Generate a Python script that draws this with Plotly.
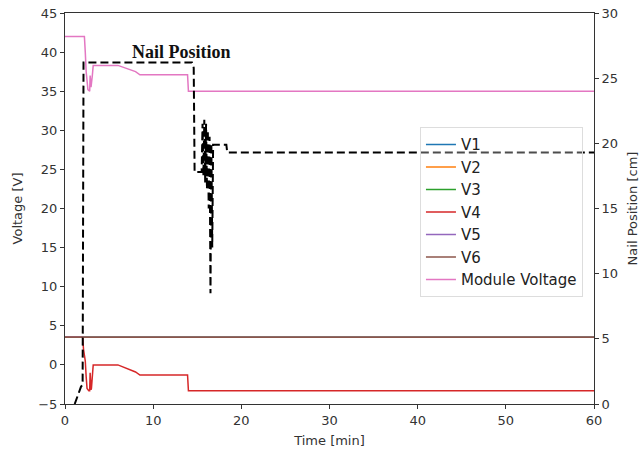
import plotly.graph_objects as go

# ---- data ----
t_const = [0, 60]
v_const = [3.55, 3.55]

v4_t = [0, 2.0, 2.1, 2.2, 2.3, 2.4, 2.5, 2.7, 2.8, 2.85, 2.95, 3.0, 3.1, 3.2, 6.0, 7.0, 8.0, 8.5, 13.9, 14.0, 60]
v4_v = [3.55, 3.55, 2.0, 1.0, 0.5, -1.5, -3.0, -3.3, -3.3, -1.0, -3.2, -3.0, -1.5, 0.0, 0.0, -0.4, -0.9, -1.3, -1.3, -3.3, -3.3]

mod_t = [0, 2.2, 2.3, 2.4, 2.6, 2.8, 2.85, 2.95, 3.0, 3.1, 3.2, 6.0, 7.0, 8.0, 8.5, 13.9, 14.0, 60]
mod_v = [42.0, 42.0, 40.0, 37.5, 35.2, 35.0, 37.0, 35.5, 36.0, 37.0, 38.3, 38.3, 37.9, 37.5, 37.1, 37.1, 35.0, 35.0]

nail_t = [1.1, 1.8, 2.0, 2.07, 2.1, 14.4, 14.6, 14.7, 15.5, 15.6, 15.7, 15.8, 15.9, 16.0, 16.1, 16.2,
          16.3, 16.4, 16.5, 16.6, 16.7, 16.8, 18.3, 18.4, 60]
nail_p = [0.0, 1.3, 1.5, 26.2, 26.2, 26.2, 25.8, 17.8, 17.8, 21.5, 17.5, 21.8, 17.0, 21.5, 16.5, 21.0,
          15.0, 20.5, 8.5, 20.0, 12.0, 19.9, 19.9, 19.3, 19.3]

series_names = ["V1", "V2", "V3", "V4", "V5", "V6", "Module Voltage"]
colors = ["#1f77b4", "#ff7f0e", "#2ca02c", "#d62728", "#9467bd", "#8c564b", "#e377c2"]

fig = go.Figure()
for i, name in enumerate(series_names):
    if name == "V4":
        x, y = v4_t, v4_v
    elif name == "Module Voltage":
        x, y = mod_t, mod_v
    else:
        x, y = t_const, v_const
    fig.add_trace(go.Scatter(x=x, y=y, mode="lines", name=name,
                             line=dict(color=colors[i], width=1.5)))

fig.add_trace(go.Scatter(x=nail_t, y=nail_p, mode="lines", name="Nail Position",
                         yaxis="y2", showlegend=False,
                         line=dict(color="black", width=2, dash="8px,4px")))

fig.add_annotation(x=13.2, y=27.0, xref="x", yref="y2", text="<b>Nail Position</b>",
                   showarrow=False, yanchor="middle", xanchor="center",
                   font=dict(family="Liberation Serif", size=18, color="#111"))

title_font = dict(family="DejaVu Sans", size=13, color="#333")
axis_common = dict(showgrid=False, zeroline=False, showline=True, linecolor="#333",
                   linewidth=1, ticks="outside", ticklen=4, tickcolor="#333", automargin=False,
                   tickfont=dict(family="DejaVu Sans", size=13, color="#333"))

fig.update_layout(
    width=641, height=453,
    margin=dict(l=65, r=47, t=13, b=49),
    paper_bgcolor="white", plot_bgcolor="white",
    xaxis=dict(range=[0, 60], dtick=10, mirror=True,
               title=dict(text="Time [min]", font=title_font, standoff=9),
               **axis_common),
    yaxis=dict(range=[-5, 45], dtick=5,
               title=dict(text="Voltage [V]", font=title_font, standoff=12),
               **axis_common),
    yaxis2=dict(range=[0, 30], dtick=5, overlaying="y", side="right",
                title=dict(text="Nail Position [cm]", font=title_font, standoff=10),
                **axis_common),
    legend=dict(x=0.671, y=0.708, xanchor="left", yanchor="top",
                bgcolor="rgba(255,255,255,0.3)", bordercolor="#ddd", borderwidth=1,
                font=dict(family="DejaVu Sans", size=15, color="#222"),
                tracegroupgap=0, itemwidth=30),
    showlegend=True,
)

fig.write_html("out.html")
